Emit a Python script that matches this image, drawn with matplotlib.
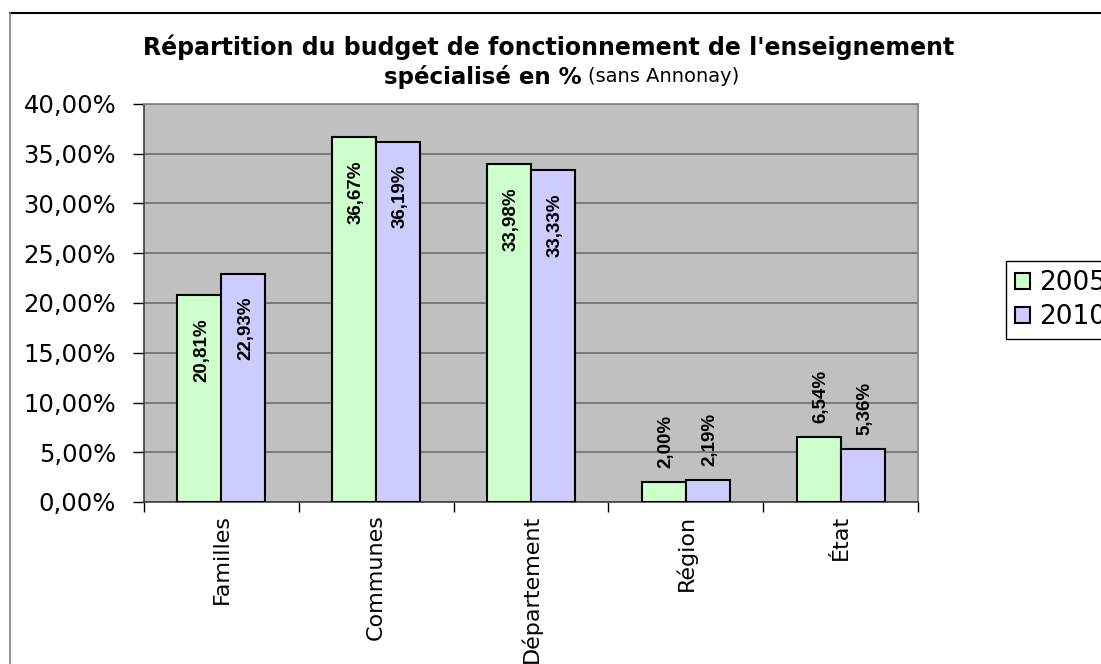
import matplotlib
matplotlib.use("Agg")
import matplotlib.pyplot as plt
from matplotlib.patches import Patch
from matplotlib.lines import Line2D
from matplotlib.ticker import FuncFormatter
import numpy as np

plt.rcParams.update({"font.family": "DejaVu Sans"})

# data (percent)
categories = ["Familles", "Communes", "Département", "Région", "État"]
years = ["2005", "2010"]
share_2005 = [20.81, 36.67, 33.98, 2.00, 6.54]
share_2010 = [22.93, 36.19, 33.33, 2.19, 5.36]

C2005, C2010, PLOTBG, GRID = "#CCFFCC", "#CCCCFF", "#C0C0C0", "#6E6E6E"
W, H = 1101, 664

fig = plt.figure(figsize=(W / 100, H / 100), dpi=100)
fig.patch.set_facecolor("white")
ax = fig.add_axes([144 / W, 1 - 502 / H, (918 - 144) / W, (502 - 104) / H])
ax.set_facecolor(PLOTBG)

x = np.arange(len(categories))
bw = 0.284
series = [(share_2005, C2005, -bw / 2), (share_2010, C2010, bw / 2)]
for vals, col, dx in series:
    bars = ax.bar(x + dx, vals, width=bw, color=col, edgecolor="black", linewidth=1.5, zorder=3)
    for b, v in zip(bars, vals):
        lab = f"{v:.2f}%".replace(".", ",")
        cx = b.get_x() + b.get_width() / 2
        if v > 10:
            ax.annotate(lab, (cx, v), xytext=(2, -23), textcoords="offset pixels",
                        rotation=90, ha="center", va="top", fontsize=13.5,
                        fontweight="bold", family="Liberation Sans", zorder=4)
        else:
            ax.annotate(lab, (cx, v), xytext=(2, 14), textcoords="offset pixels",
                        rotation=90, ha="center", va="bottom", fontsize=13.5,
                        fontweight="bold", family="Liberation Sans", zorder=4)

ax.set_xlim(-0.5, len(categories) - 0.5)
ax.set_ylim(0, 40)
ax.set_yticks(np.arange(0, 40.1, 5))
ax.yaxis.set_major_formatter(FuncFormatter(lambda v, p: f"{v:.2f}%".replace(".", ",")))
ax.grid(True, axis="y", color=GRID, linewidth=1.2, zorder=1)
ax.tick_params(axis="y", direction="out", length=8, width=1, labelsize=17.5, pad=12)

ax.set_xticks(x)
ax.set_xticklabels(categories, rotation=90, fontsize=16)
ax.tick_params(axis="x", length=0, pad=9)
ax.set_xticks(np.arange(-0.5, len(categories)), minor=True)
ax.tick_params(axis="x", which="minor", direction="out", length=7, width=1)

for s in ("top", "right"):
    ax.spines[s].set_color("#808080")
    ax.spines[s].set_linewidth(1.2)
for s in ("left", "bottom"):
    ax.spines[s].set_color("#404040")
    ax.spines[s].set_linewidth(1.2)

# title
fig.text(549 / W, 1 - 47 / H, "Répartition du budget de fonctionnement de l'enseignement",
         ha="center", va="center", fontsize=17, fontweight="bold")
fig.text(582 / W, 1 - 77 / H, "spécialisé en %", ha="right", va="center",
         fontsize=16.5, fontweight="bold")
fig.text(588 / W, 1 - 77 / H, "(sans Annonay)", ha="left", va="center", fontsize=14)

# legend
handles = [Patch(facecolor=C2005, edgecolor="black", linewidth=1.5),
           Patch(facecolor=C2010, edgecolor="black", linewidth=1.5)]
leg = fig.legend(handles, years, loc="center left", bbox_to_anchor=(993 / W, 1 - 300 / H),
                 fontsize=19, handlelength=0.55, handleheight=0.55, handletextpad=0.35,
                 labelspacing=0.3, borderpad=0.35, fancybox=False, framealpha=1,
                 edgecolor="black")
leg.get_frame().set_linewidth(1.0)

# chart-area border remnants
fig.add_artist(Line2D([10 / W, 1], [1 - 13 / H, 1 - 13 / H], color="black", lw=1.5))
fig.add_artist(Line2D([10 / W, 10 / W], [0, 1 - 13 / H], color="#808080", lw=1.2))

fig.savefig("out.png", dpi=100)
